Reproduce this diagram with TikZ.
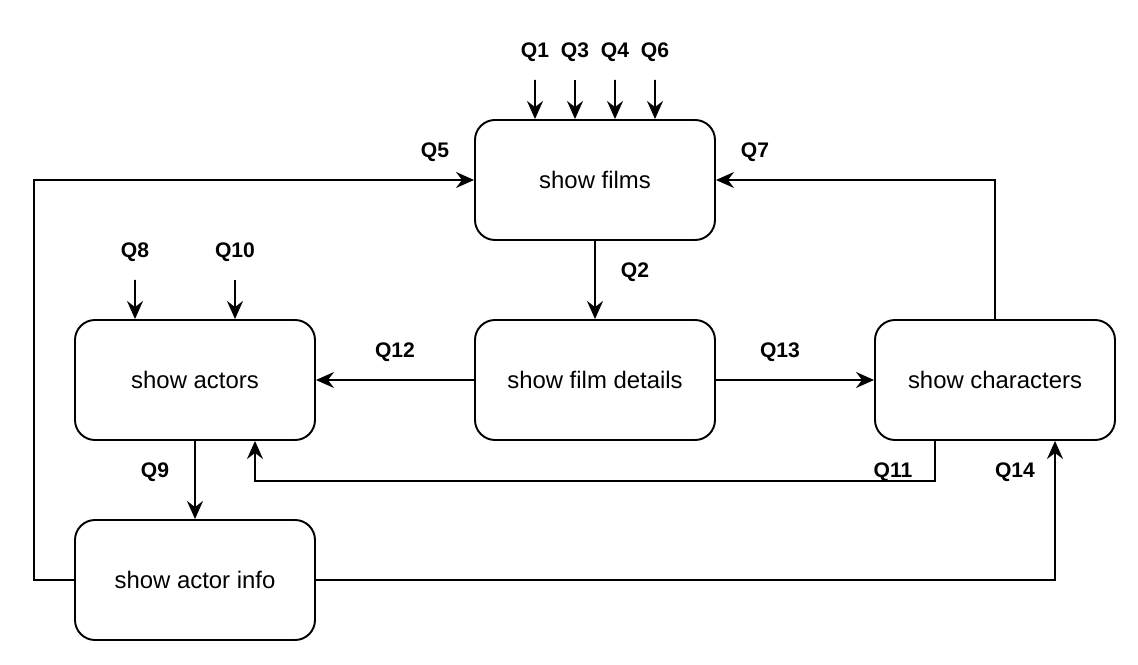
\documentclass[tikz,border=0pt]{standalone}
\usepackage{fontspec}
\setmainfont{Liberation Sans}
\usetikzlibrary{arrows.meta}

\tikzset{
    screen/.style={draw=black,line width=1.1pt,rounded corners=0.4cm,
        minimum width=4.8cm,minimum height=2.4cm,
        font=\fontsize{13.6}{16}\selectfont},
    flow/.style={line width=1.1pt,-{Stealth[length=0.36cm,width=0.32cm,inset=0.12cm]}},
    qlabel/.style={font=\fontsize{12}{14}\selectfont\bfseries,yshift=-0.04cm}
}

\begin{document}
\begin{tikzpicture}
        \useasboundingbox (0,0) rectangle (22.76,13.28);

        % Screens
        \node[screen] (films) at (11.9,9.68) {show films};
        \node[screen] (details) at (11.9,5.68) {show film details};
        \node[screen] (actors) at (3.9,5.68) {show actors};
        \node[screen] (chars) at (19.9,5.68) {show characters};
        \node[screen] (info) at (3.9,1.68) {show actor info};

        % Queries into show films
        \coordinate (q1) at (10.7,11.68);
        \coordinate (q3) at (11.5,11.68);
        \coordinate (q4) at (12.3,11.68);
        \coordinate (q6) at (13.1,11.68);
        \draw[flow] (q1) -- ([xshift=-1.2cm]films.north);
        \draw[flow] (q3) -- ([xshift=-0.4cm]films.north);
        \draw[flow] (q4) -- ([xshift=0.4cm]films.north);
        \draw[flow] (q6) -- ([xshift=1.2cm]films.north);
        \node[qlabel] (l1) at (10.7,12.28) {Q1};
        \node[qlabel] (l3) at (11.5,12.28) {Q3};
        \node[qlabel] (l4) at (12.3,12.28) {Q4};
        \node[qlabel] (l6) at (13.1,12.28) {Q6};

        % Queries into show actors
        \coordinate (q8) at (2.7,7.68);
        \coordinate (q10) at (4.7,7.68);
        \draw[flow] (q8) -- ([xshift=-1.2cm]actors.north);
        \draw[flow] (q10) -- ([xshift=0.8cm]actors.north);
        \node[qlabel] (l8) at (2.7,8.28) {Q8};
        \node[qlabel] (l10) at (4.7,8.28) {Q10};

        % Links between screens
        \draw[flow] (films.south) -- (details.north);
        \node[qlabel] (l2) at (12.7,7.88) {Q2};

        \draw[flow] (details.west) -- (actors.east);
        \node[qlabel] (l12) at (7.9,6.28) {Q12};

        \draw[flow] (details.east) -- (chars.west);
        \node[qlabel] (l13) at (15.6,6.28) {Q13};

        \draw[flow] (actors.south) -- (info.north);
        \node[qlabel] (l9) at (3.1,3.88) {Q9};

        \draw[flow] (info.west) -- ++(-0.8,0) |- (films.west);
        \node[qlabel] (l5) at (8.7,10.28) {Q5};

        \draw[flow] (chars.north) |- (films.east);
        \node[qlabel] (l7) at (15.1,10.28) {Q7};

        \draw[flow] ([xshift=-1.2cm]chars.south) -- ++(0,-0.8) -| ([xshift=1.2cm]actors.south);
        \node[qlabel] (l11) at (17.86,3.88) {Q11};

        \draw[flow] (info.east) -| ([xshift=1.2cm]chars.south);
        \node[qlabel] (l14) at (20.3,3.88) {Q14};
    \end{tikzpicture}
\end{document}
